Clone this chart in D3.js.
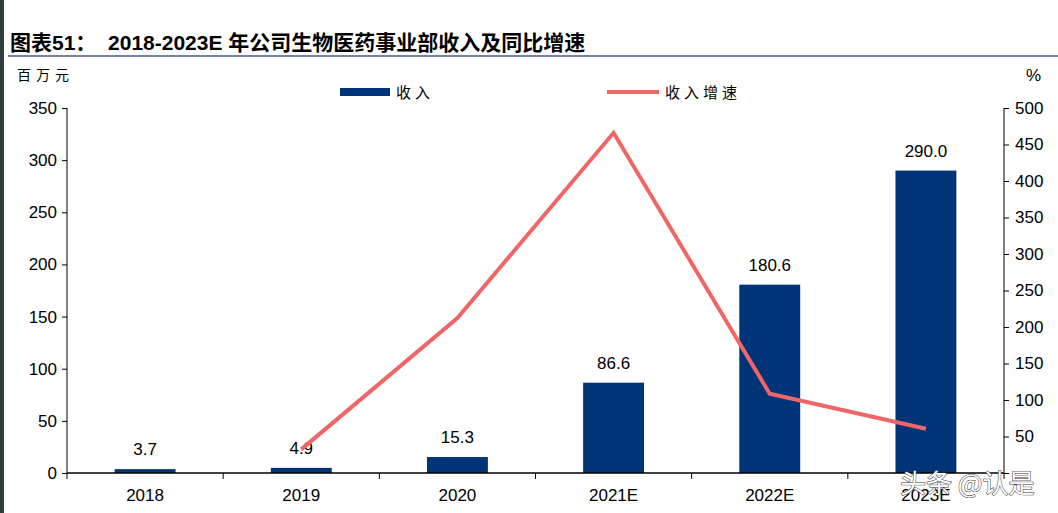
<!DOCTYPE html>
<html><head><meta charset="utf-8">
<script src="https://cdn.jsdelivr.net/npm/d3@7/dist/d3.min.js"></script>
<style>
body{margin:0;background:#fff;}
svg{display:block;}
</style></head>
<body>
<svg id="c" width="1058" height="513"></svg>
<script>
const categories = ["2018","2019","2020","2021E","2022E","2023E"];
const revenue = [3.7, 4.9, 15.3, 86.6, 180.6, 290.0];
const growth = [null, 32.4, 212.2, 466.0, 108.5, 60.6];
const leftTicks = [0,50,100,150,200,250,300,350];
const rightTicks = [0,50,100,150,200,250,300,350,400,450,500];

const svg = d3.select("#c");
const sans = "'Liberation Sans', Arial, sans-serif";
const cjk = "'Noto Sans CJK SC', sans-serif";

svg.append("rect").attr("x",0).attr("y",0).attr("width",4).attr("height",513).attr("fill","#2f3d3c");

// title
svg.append("text").attr("x",10).attr("y",50)
  .attr("font-family","'Liberation Sans', 'Noto Sans CJK SC', sans-serif")
  .attr("font-weight","bold").attr("font-size",21).attr("fill","#000")
  .attr("xml:space","preserve")
  .text("图表51：  2018-2023E 年公司生物医药事业部收入及同比增速");
svg.append("line").attr("x1",8).attr("x2",1058).attr("y1",56).attr("y2",56)
  .attr("stroke","#7085a3").attr("stroke-width",2);

const x = d3.scaleBand().domain(categories).range([67,1004]).paddingInner(0.61).paddingOuter(0.305);
const xb = d3.scaleBand().domain(categories).range([67,1004]);
const yL = d3.scaleLinear().domain([0,350]).range([473,108]);
const yR = d3.scaleLinear().domain([0,500]).range([473,108]);

// axes
const gL = svg.append("g").attr("transform","translate(67,0)")
  .call(d3.axisLeft(yL).tickValues(leftTicks).tickSize(5).tickPadding(5));
const gR = svg.append("g").attr("transform","translate(1004,0)")
  .call(d3.axisRight(yR).tickValues(rightTicks).tickSize(5).tickPadding(6).tickFormat(d=>d===0?"":d));
[gL,gR].forEach(g=>{
  g.selectAll("text").attr("font-family",sans).attr("font-size",17).attr("fill","#000");
  g.selectAll("line").attr("stroke","#000");
  g.select(".domain").attr("stroke","#000").attr("d","M0,473V108");
});

// bars
svg.append("g").selectAll("rect").data(revenue).join("rect")
  .attr("x",(d,i)=>x(categories[i]))
  .attr("width",x.bandwidth())
  .attr("y",d=>yL(d))
  .attr("height",d=>yL(0)-yL(d))
  .attr("fill","#003478");

// x axis
const gX = svg.append("g").attr("transform","translate(0,473)");
gX.append("line").attr("x1",67).attr("x2",1004).attr("y1",0).attr("y2",0).attr("stroke","#000").attr("stroke-width",1.3);
gX.selectAll("line.t").data(categories.concat(["end"])).join("line").attr("class","t")
  .attr("x1",(d,i)=>i<categories.length?xb(d):xb.range()[1])
  .attr("x2",(d,i)=>i<categories.length?xb(d):xb.range()[1])
  .attr("y1",0).attr("y2",6).attr("stroke","#000");
gX.selectAll("text").data(categories).join("text")
  .attr("x",d=>xb(d)+xb.bandwidth()/2).attr("y",28)
  .attr("text-anchor","middle").attr("font-family",sans).attr("font-size",17).attr("fill","#000")
  .text(d=>d);

// data labels
svg.append("g").selectAll("text").data(revenue).join("text")
  .attr("x",(d,i)=>xb(categories[i])+xb.bandwidth()/2)
  .attr("y",d=>yL(d)-14)
  .attr("text-anchor","middle").attr("font-family",sans).attr("font-size",17).attr("fill","#000")
  .text(d=>d.toFixed(1));

// line
const line = d3.line().defined(d=>d!=null)
  .x((d,i)=>xb(categories[i])+xb.bandwidth()/2)
  .y(d=>yR(d));
svg.append("path").datum(growth).attr("d",line)
  .attr("fill","none").attr("stroke","#f06666").attr("stroke-width",4).attr("stroke-linejoin","miter");

// axis titles
svg.append("text").attr("x",17).attr("y",80).attr("font-family",cjk).attr("font-size",14)
  .attr("letter-spacing",5).text("百万元");
svg.append("text").attr("x",1026).attr("y",81).attr("font-family",sans).attr("font-size",17).text("%");

// legend
svg.append("rect").attr("x",340).attr("y",88).attr("width",50).attr("height",8).attr("fill","#003478");
svg.append("text").attr("x",396).attr("y",98).attr("font-family",cjk).attr("font-size",15)
  .attr("letter-spacing",4).text("收入");
svg.append("line").attr("x1",607).attr("x2",659).attr("y1",92).attr("y2",92)
  .attr("stroke","#f06666").attr("stroke-width",4);
svg.append("text").attr("x",665).attr("y",98).attr("font-family",cjk).attr("font-size",15)
  .attr("letter-spacing",4).text("收入增速");

// watermark
svg.append("text").attr("x",900).attr("y",493).attr("font-family",cjk).attr("font-size",26)
  .attr("fill","#fff").attr("stroke","#333").attr("stroke-width",1).attr("paint-order","stroke")
  .text("头条 @认是");
</script>
</body></html>
